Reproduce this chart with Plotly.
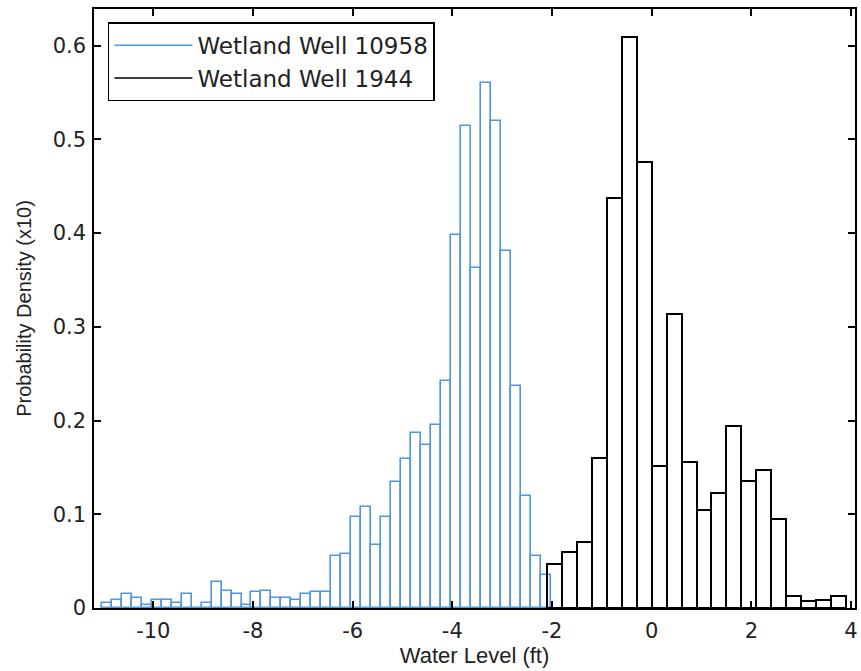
import plotly.graph_objects as go

# ---- data (probability density x10) ----
blue_name = "Wetland Well 10958"
blue_bin_start = -11.03
blue_bin_width = 0.2
blue_values = [
    0.005, 0.009, 0.0145, 0.011, 0.0035, 0.009, 0.009, 0.005, 0.0145, 0.0,
    0.005, 0.028, 0.018, 0.0145, 0.0035, 0.0167, 0.018, 0.011, 0.011, 0.009,
    0.0145, 0.0167, 0.0167, 0.0557, 0.058, 0.097, 0.108, 0.067, 0.097, 0.1345,
    0.159, 0.187, 0.174, 0.195, 0.242, 0.398, 0.514, 0.363, 0.560, 0.519,
    0.381, 0.237, 0.119, 0.055, 0.035,
]

black_name = "Wetland Well 1944"
black_bin_start = -2.1
black_bin_width = 0.3
black_values = [
    0.047, 0.060, 0.0707, 0.1605, 0.437, 0.609, 0.476, 0.151, 0.314, 0.156,
    0.105, 0.123, 0.194, 0.136, 0.147, 0.095, 0.013, 0.007, 0.0086, 0.013,
]

x_tick_vals = [-10, -8, -6, -4, -2, 0, 2, 4]
x_tick_text = ["-10", "-8", "-6", "-4", "-2", "0", "2", "4"]
y_tick_vals = [0, 0.1, 0.2, 0.3, 0.4, 0.5, 0.6]
y_tick_text = ["0", "0.1", "0.2", "0.3", "0.4", "0.5", "0.6"]

x_title = "Water Level (ft)"
y_title = "Probability Density (x10)"

# ---- styling ----
BLUE = "#4f96dc"
BLACK = "#000000"
TEXT = "#222222"
TICK_FONT = dict(family="DejaVu Sans", size=21, color=TEXT)


def centers(start, width, n):
    return [start + width * (i + 0.5) for i in range(n)]


fig = go.Figure()

fig.add_trace(go.Bar(
    x=centers(blue_bin_start, blue_bin_width, len(blue_values)),
    y=blue_values,
    width=[blue_bin_width] * len(blue_values),
    marker=dict(color="rgba(0,0,0,0)", line=dict(color=BLUE, width=1.6)),
    showlegend=False,
    name=blue_name,
))
fig.add_trace(go.Bar(
    x=centers(black_bin_start, black_bin_width, len(black_values)),
    y=black_values,
    width=[black_bin_width] * len(black_values),
    marker=dict(color="rgba(0,0,0,0)", line=dict(color=BLACK, width=2)),
    showlegend=False,
    name=black_name,
))

# legend entries drawn as lines (as in the reference)
fig.add_trace(go.Scatter(x=[None], y=[None], mode="lines", name=blue_name,
                         line=dict(color=BLUE, width=1.5), legendgroup="a"))
fig.add_trace(go.Scatter(x=[None], y=[None], mode="lines", name=black_name,
                         line=dict(color=BLACK, width=1.5), legendgroup="b"))

axis_common = dict(
    showline=True, linecolor=BLACK, linewidth=1.5, mirror="ticks",
    ticks="inside", ticklen=7, tickwidth=1.5, tickcolor=BLACK,
    showgrid=False, zeroline=False, tickfont=TICK_FONT,
)

fig.update_layout(
    width=861, height=671,
    margin=dict(l=94, r=3, t=9, b=63),
    paper_bgcolor="white", plot_bgcolor="white",
    barmode="overlay", bargap=0,
    xaxis=dict(range=[-11.19, 4.08], tickvals=x_tick_vals, ticktext=x_tick_text,
               ticklabelstandoff=3,
               title=dict(text=x_title, font=dict(family="Liberation Sans", size=22, color=TEXT),
                          standoff=6),
               **axis_common),
    yaxis=dict(range=[0, 0.639], tickvals=y_tick_vals, ticktext=y_tick_text,
               ticklabelstandoff=2,
               title=dict(text=y_title, font=dict(family="Liberation Sans", size=20, color=TEXT),
                          standoff=16),
               **axis_common),
    legend=dict(
        x=0.0183, y=0.978, xanchor="left", yanchor="top",
        bordercolor=BLACK, borderwidth=1.5, bgcolor="white",
        font=dict(family="DejaVu Sans", size=23, color=TEXT),
        itemwidth=78, tracegroupgap=0,
    ),
)

fig.write_html("out.html")
